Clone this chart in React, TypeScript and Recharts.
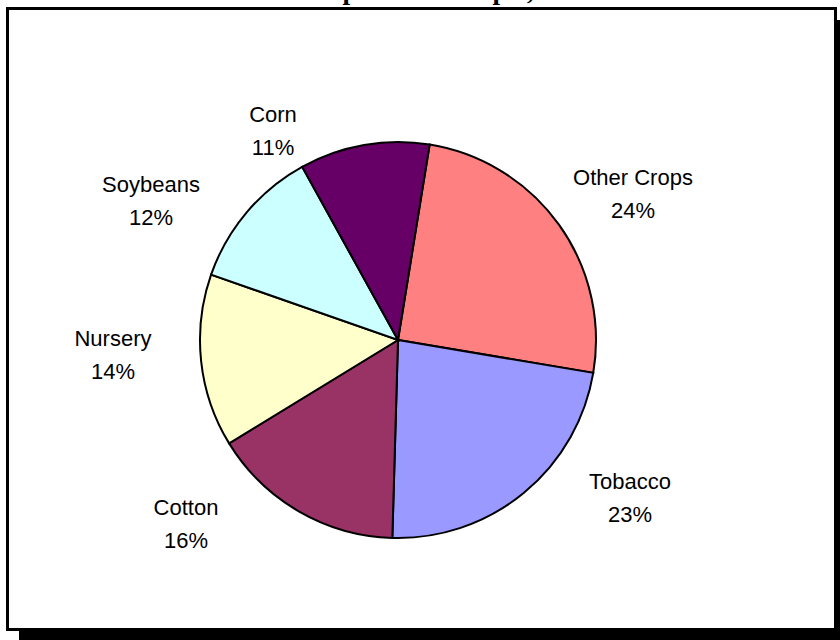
import React from "react";
import { PieChart, Pie, Cell } from "recharts";

const categories = ["Other Crops", "Tobacco", "Cotton", "Nursery", "Soybeans", "Corn"];
const shares = [25.1, 22.8, 15.8, 14.1, 11.6, 10.6];
const percentLabels = ["24%", "23%", "16%", "14%", "12%", "11%"];
const colors = ["#FF8080", "#9999FF", "#993366", "#FFFFCC", "#CCFFFF", "#660066"];
const titleText = "Crop Cash Receipts, 2002";

// label block centre offsets from pie centre (layout)
const labelOffsets: [number, number][] = [
  [235, -146],
  [232, 158],
  [-212, 184],
  [-285, 15],
  [-247, -139],
  [-125, -209],
];

const data = categories.map((name, i) => ({ name, value: shares[i], pct: percentLabels[i] }));

const FONT = "'Liberation Sans', Arial, sans-serif";

const renderLabel = (props: any) => {
  const { cx, cy, index } = props;
  const [dx, dy] = labelOffsets[index];
  const x = cx + dx;
  const y = cy + dy;
  return (
    <g>
      <text x={x} y={y - 16.5} textAnchor="middle" dominantBaseline="central" fontFamily={FONT} fontSize={22} fill="#000">
        {data[index].name}
      </text>
      <text x={x} y={y + 16.5} textAnchor="middle" dominantBaseline="central" fontFamily={FONT} fontSize={22} fill="#000">
        {data[index].pct}
      </text>
    </g>
  );
};

export default function App() {
  return (
    <div style={{ position: "absolute", left: 0, top: 0, width: 840, height: 640, overflow: "hidden", background: "#fff" }}>
      <div style={{ position: "absolute", left: 19, top: 20, width: 830, height: 630, background: "#000" }} />
      <div
        style={{
          position: "absolute",
          left: 6,
          top: 7,
          width: 831,
          height: 624,
          boxSizing: "border-box",
          border: "3px solid #000",
          background: "#fff",
        }}
      />
      <svg width={840} height={640} style={{ position: "absolute", left: 0, top: 0 }}>
        <text x={298} y={-1} fontFamily="'Liberation Serif', 'Times New Roman', serif" fontWeight="bold" fontSize={27} fill="#000">
          {titleText}
        </text>
      </svg>
      <div style={{ position: "absolute", left: 0, top: 0 }}>
        <PieChart width={840} height={640} margin={{ top: 0, right: 0, bottom: 0, left: 0 }}>
          <Pie
            data={data}
            dataKey="value"
            nameKey="name"
            cx={398}
            cy={340}
            outerRadius={198}
            startAngle={80.8}
            endAngle={-279.2}
            stroke="#000"
            strokeWidth={2}
            label={renderLabel}
            labelLine={false}
            isAnimationActive={false}
          >
            {data.map((d, i) => (
              <Cell key={d.name} fill={colors[i]} stroke="#000" strokeWidth={2} />
            ))}
          </Pie>
        </PieChart>
      </div>
    </div>
  );
}
